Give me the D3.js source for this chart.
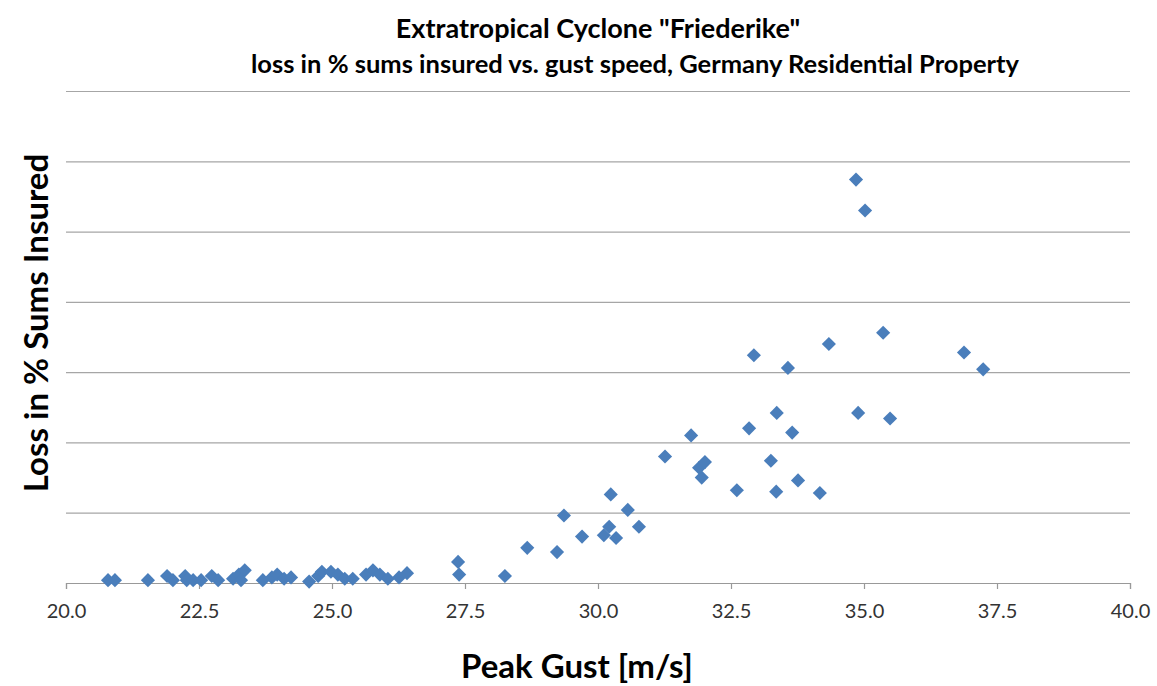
<!DOCTYPE html>
<meta charset="utf-8">
<script src="https://d3js.org/d3.v7.min.js"></script>
<style>
  body { margin: 0; background: #fff; }
  text { font-family: Lato, "Noto Sans", sans-serif; }
</style>
<div id="my_dataviz"></div>
<script>

// peak gust [m/s] and loss in % sums insured
var gust = [20.79, 20.92, 21.54, 21.90, 22.01, 22.24, 22.27, 22.39, 22.54, 22.74, 22.86,
  23.14, 23.25, 23.36, 23.29, 23.70, 23.87, 23.97, 24.10, 24.23, 24.57, 24.74, 24.81,
  24.98, 25.11, 25.24, 25.39, 25.64, 25.77, 25.90, 26.05, 26.26, 26.41,
  27.37, 27.39, 28.25, 28.67, 29.23, 29.36, 29.70, 30.11, 30.21, 30.34, 30.24, 30.56,
  30.77, 31.26, 31.75, 31.90, 32.01, 31.95, 32.61, 32.84, 32.93, 33.57, 34.34, 35.36,
  36.88, 37.24, 33.36, 33.65, 34.89, 35.49, 33.25, 33.35, 33.76, 34.17, 34.85, 35.02];
var loss = [0.002, 0.002, 0.002, 0.005, 0.002, 0.005, 0.002, 0.002, 0.002, 0.005, 0.002,
  0.003, 0.006, 0.009, 0.002, 0.002, 0.004, 0.006, 0.003, 0.004, 0.001, 0.005, 0.008,
  0.008, 0.006, 0.003, 0.003, 0.006, 0.009, 0.006, 0.003, 0.004, 0.007,
  0.015, 0.006, 0.005, 0.025, 0.022, 0.048, 0.033, 0.034, 0.040, 0.032, 0.063, 0.052,
  0.040, 0.090, 0.105, 0.082, 0.086, 0.075, 0.066, 0.110, 0.162, 0.153, 0.170, 0.178,
  0.164, 0.152, 0.121, 0.107, 0.121, 0.117, 0.087, 0.065, 0.073, 0.064, 0.287, 0.265];
var xTicks = [20, 22.5, 25, 27.5, 30, 32.5, 35, 37.5, 40];
var yTicks = [0, 0.05, 0.1, 0.15, 0.2, 0.25, 0.3, 0.35];

var data = gust.map(function(g, i) { return {x: g, y: loss[i]}; });

var W = 1157, H = 686;
var margin = {top: 91, right: 27, bottom: 103, left: 66};
var width = W - margin.left - margin.right,
    height = H - margin.top - margin.bottom;

var svg = d3.select("#my_dataviz")
  .append("svg")
  .attr("width", W)
  .attr("height", H);

var g = svg.append("g")
  .attr("transform", "translate(" + margin.left + "," + margin.top + ")");

var x = d3.scaleLinear().domain([20, 40]).range([0, width]);
var y = d3.scaleLinear().domain([0, 0.35]).range([height, 0]);

// horizontal gridlines (no y labels in the original)
g.append("g")
  .call(d3.axisLeft(y).tickValues(yTicks.slice(1)).tickSize(-width).tickFormat(""))
  .call(function(s) {
    s.select(".domain").remove();
    s.selectAll("line").attr("stroke", "#a6a6a6").attr("stroke-width", 1.2);
  });

// x axis
g.append("g")
  .attr("transform", "translate(0," + height + ")")
  .call(d3.axisBottom(x).tickValues(xTicks).tickSize(6).tickPadding(15)
    .tickFormat(d3.format(".1f")))
  .call(function(s) {
    s.select(".domain").attr("stroke", "#999").attr("stroke-width", 1.2);
    s.selectAll("line").attr("stroke", "#999").attr("stroke-width", 1.2);
    s.selectAll("text").style("font-size", "20px").attr("fill", "#333")
      .style("font-family", "Lato, sans-serif");
  });

// diamonds
var diamond = d3.symbol().type(d3.symbolSquare).size(100);
g.selectAll("path.pt")
  .data(data)
  .enter()
  .append("path")
  .attr("class", "pt")
  .attr("d", diamond)
  .attr("transform", function(d) { return "translate(" + x(d.x) + "," + y(d.y) + ") rotate(45)"; })
  .attr("fill", "#4a7ebb");

// titles
svg.append("text")
  .attr("x", 598).attr("y", 38)
  .attr("text-anchor", "middle")
  .style("font-size", "27px").style("font-weight", "bold")
  .text('Extratropical Cyclone "Friederike"');

svg.append("text")
  .attr("x", 635).attr("y", 73)
  .attr("text-anchor", "middle")
  .style("font-size", "25.5px").style("font-weight", "bold")
  .text("loss in % sums insured vs. gust speed, Germany Residential Property");

svg.append("text")
  .attr("transform", "translate(48,323) rotate(-90)")
  .attr("text-anchor", "middle")
  .style("font-size", "33px").style("font-weight", "bold")
  .text("Loss in % Sums Insured");

svg.append("text")
  .attr("x", 577).attr("y", 678)
  .attr("text-anchor", "middle")
  .style("font-size", "33px").style("font-weight", "bold")
  .text("Peak Gust [m/s]");

</script>
